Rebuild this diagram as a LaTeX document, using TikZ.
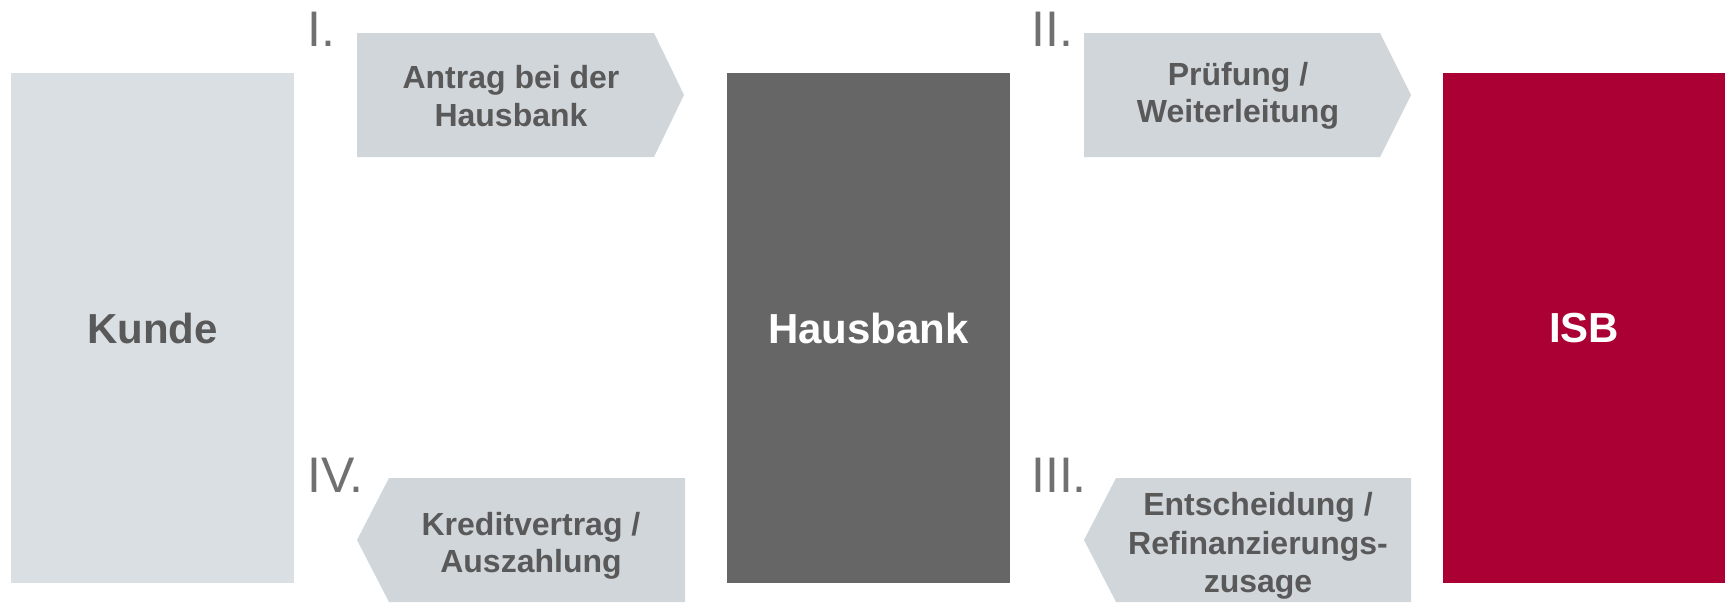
\documentclass[tikz,border=0pt]{standalone}
\usepackage{fontspec}
\setmainfont{Liberation Sans}
\definecolor{kundefill}{HTML}{DADFE3}
\definecolor{arrowfill}{HTML}{D1D6DA}
\definecolor{bankfill}{HTML}{666666}
\definecolor{isbfill}{HTML}{AA0033}
\definecolor{txtgray}{HTML}{595959}
\definecolor{numgray}{HTML}{707070}
\begin{document}
\begin{tikzpicture}[x=1pt,y=-1pt,
  boxtext/.style={font=\fontsize{42}{46}\selectfont\bfseries, align=center},
  arrowtext/.style={font=\fontsize{32}{37.5}\selectfont\bfseries, text=txtgray, align=center},
  numtext/.style={font=\fontsize{50}{54}\selectfont, text=numgray, anchor=base west, inner sep=0pt}]
\useasboundingbox (0,0) rectangle (1732,603);
% main boxes
\fill[kundefill] (11,73) rectangle (294,583);
\fill[bankfill] (727,73) rectangle (1010,583);
\fill[isbfill] (1443,73) rectangle (1725,583);
\node[boxtext, text=txtgray] (kunde) at (152.5,328) {Kunde};
\node[boxtext, text=white] (hausbank) at (868.5,328) {Hausbank};
\node[boxtext, text=white] (isb) at (1584,328) {ISB};
% arrows
\fill[arrowfill] (357,33) -- (654,33) -- (684,95) -- (654,157) -- (357,157) -- cycle;
\fill[arrowfill] (1084,33) -- (1380,33) -- (1411,95) -- (1380,157) -- (1084,157) -- cycle;
\fill[arrowfill] (685,478) -- (389,478) -- (357,540) -- (389,602) -- (685,602) -- cycle;
\fill[arrowfill] (1411,478) -- (1116,478) -- (1084,540) -- (1116,602) -- (1411,602) -- cycle;
\node[arrowtext] (a1) at (511,96) {Antrag bei der\\Hausbank};
\node[arrowtext] (a2) at (1238,96) {Prüfung /\\Weiterleitung};
\node[arrowtext] (a4) at (531,546) {Kreditvertrag /\\Auszahlung};
\node[arrowtext, font=\fontsize{32}{38.5}\selectfont\bfseries] (a3) at (1258,546) {Entscheidung /\\Refinanzierungs-\\zusage};
% step numbers
\node[numtext] (n1) at (307,46) {I.};
\node[numtext] (n2) at (1031,46) {II.};
\node[numtext] (n3) at (1031,492) {III.};
\node[numtext] (n4) at (307,492) {IV.};
\end{tikzpicture}
\end{document}
